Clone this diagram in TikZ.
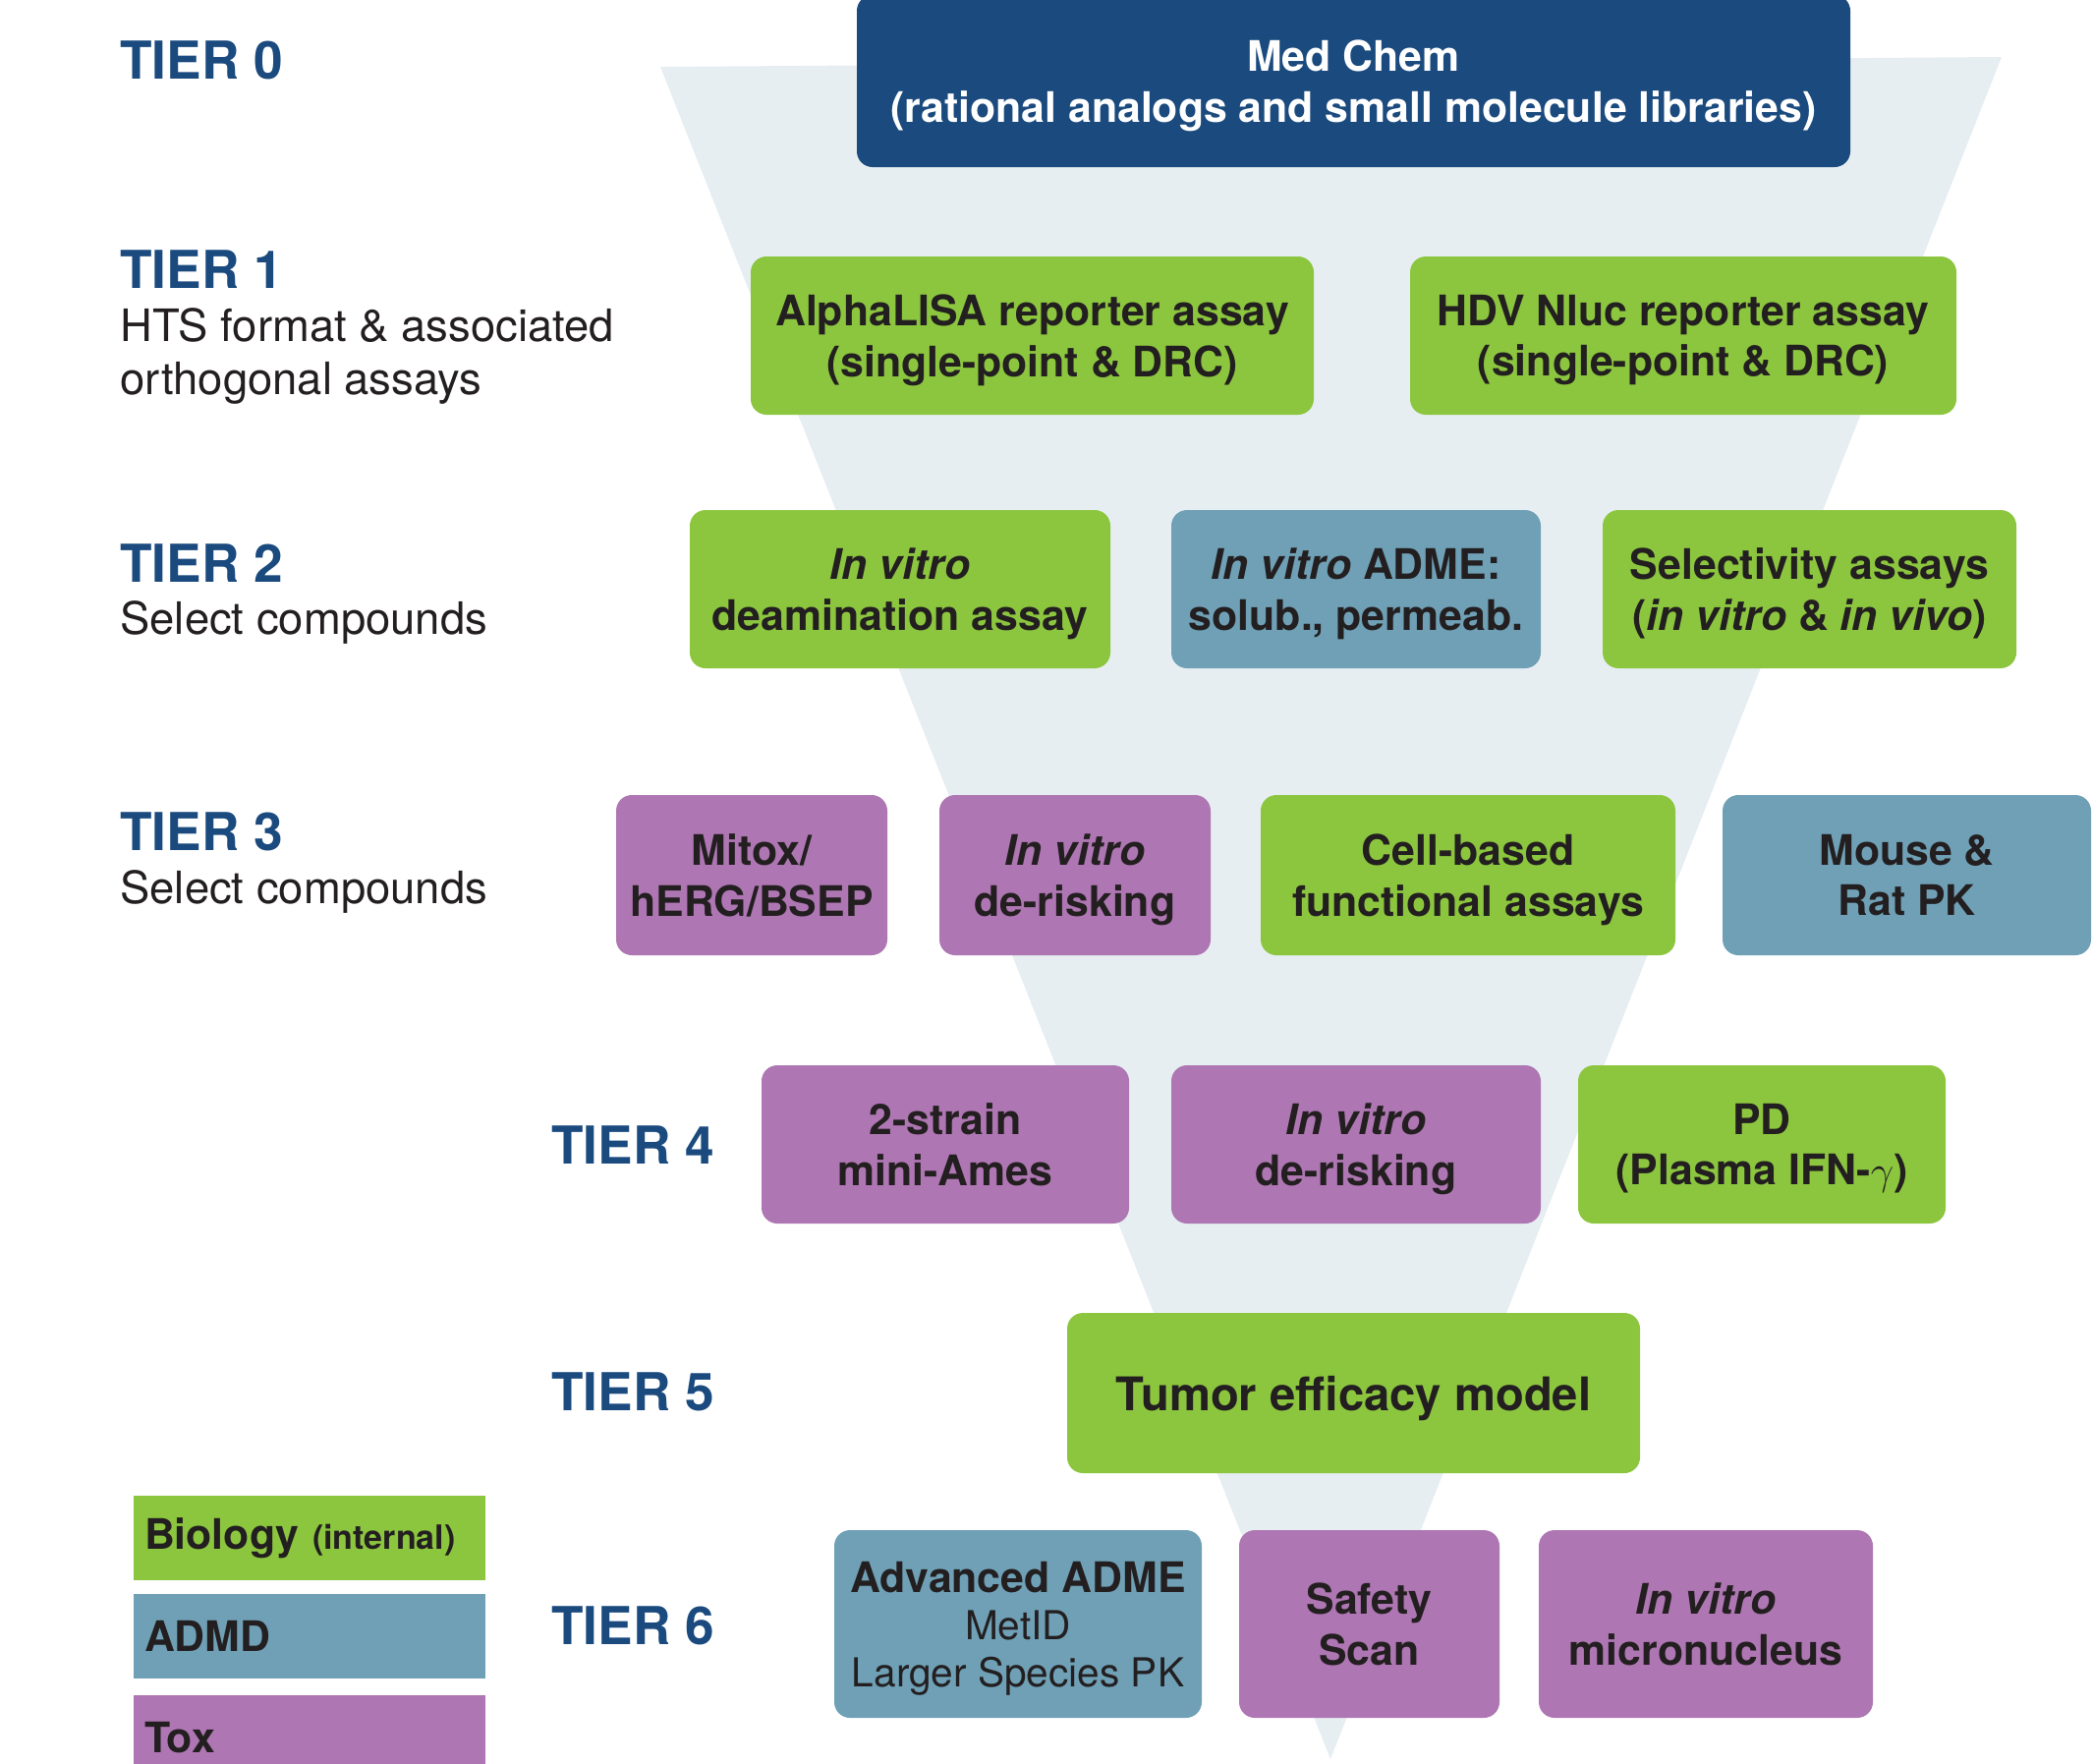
\documentclass[tikz,border=0pt]{standalone}
\usepackage{fontspec}
\setmainfont{TeX Gyre Heros}
\usetikzlibrary{positioning}

\definecolor{biogreen}{HTML}{8CC63F}
\definecolor{admdblue}{HTML}{6FA0B6}
\definecolor{toxpurple}{HTML}{AE76B2}
\definecolor{tiernavy}{HTML}{1A4A7E}
\definecolor{funnelgray}{HTML}{E6EEF2}
\definecolor{inkdark}{HTML}{231F20}

\tikzset{
  assay/.style={rounded corners=8pt, inner sep=0pt, align=center, text=inkdark,
    text depth=0pt, font=\fontsize{21.4}{25.8}\selectfont\bfseries},
  bio/.style={assay, fill=biogreen},
  admd/.style={assay, fill=admdblue},
  tox/.style={assay, fill=toxpurple},
  tier/.style={anchor=west, inner sep=0pt, text=tiernavy,
    font=\fontsize{26.6}{30}\selectfont\bfseries},
  tierdesc/.style={anchor=west, inner sep=0pt, align=left, text=inkdark,
    text depth=0pt, font=\fontsize{22.7}{27}\selectfont},
  legendbox/.style={inner xsep=5.5pt, inner ysep=0pt, text width=168pt,
    minimum height=43pt, align=left, text=inkdark,
    font=\fontsize{21.4}{25}\selectfont\bfseries},
}

\begin{document}
\begin{tikzpicture}[x=0.5pt, y=-0.5pt]
    \useasboundingbox (0,0) rectangle (2129,1794);

    % Funnel
    \fill[funnelgray] (672,68) -- (2037,58) -- (1354,1790) -- cycle;

    % Tier labels
    \node[tier] (tier0) at (122,61) {TIER 0};
    \node[tier] (tier1) at (122,274) {TIER 1};
    \node[tierdesc] (tier1desc) at (122,358) {HTS format \& associated\\orthogonal assays};
    \node[tier] (tier2) at (122,573) {TIER 2};
    \node[tierdesc] (tier2desc) at (122,629) {Select compounds};
    \node[tier] (tier3) at (122,846) {TIER 3};
    \node[tierdesc] (tier3desc) at (122,903) {Select compounds};
    \node[tier] (tier4) at (561,1165) {TIER 4};
    \node[tier] (tier5) at (561,1416) {TIER 5};
    \node[tier] (tier6) at (561,1654) {TIER 6};

    % Tier 0
    \node[assay, fill=tiernavy, text=white, minimum width=505.5pt, minimum height=87.5pt]
    (medchem) at (1377.5,82.5) {Med Chem\\(rational analogs and small molecule libraries)};

    % Tier 1
    \node[bio, minimum width=286.5pt, minimum height=80.5pt] (alpha) at (1050.5,341.5)
    {AlphaLISA reporter assay\\(single-point \& DRC)};
    \node[bio, minimum width=278pt, minimum height=80.5pt] (hdv) at (1713,341.5)
    {HDV Nluc reporter assay\\(single-point \& DRC)};

    % Tier 2
    \node[bio, minimum width=214pt, minimum height=80.5pt] (deam) at (916,599.5)
    {\textit{In vitro}\\deamination assay};
    \node[admd, minimum width=188pt, minimum height=80.5pt] (adme) at (1380,599.5)
    {\textit{In vitro} ADME:\\solub., permeab.};
    \node[bio, minimum width=210.5pt, minimum height=80.5pt] (select) at (1841.5,599.5)
    {Selectivity assays\\(\textit{in vitro} \& \textit{in vivo})};

    % Tier 3
    \node[tox, minimum width=138pt, minimum height=81.5pt] (mitox) at (765,890.5)
    {Mitox/\\hERG/BSEP};
    \node[tox, minimum width=138pt, minimum height=81.5pt] (derisk) at (1094,890.5)
    {\textit{In vitro}\\de-risking};
    \node[bio, minimum width=211pt, minimum height=81.5pt] (cell) at (1494,890.5)
    {Cell-based\\functional assays};
    \node[admd, minimum width=187.5pt, minimum height=81.5pt] (mouse) at (1940.5,890.5)
    {Mouse \&\\Rat PK};

    % Tier 4
    \node[tox, minimum width=187pt, minimum height=80.5pt] (ames) at (962,1164.5)
    {2-strain\\mini-Ames};
    \node[tox, minimum width=188pt, minimum height=80.5pt] (derisktwo) at (1380,1164.5)
    {\textit{In vitro}\\de-risking};
    \node[bio, minimum width=187pt, minimum height=80.5pt] (pd) at (1793,1164.5)
    {PD\\(Plasma IFN-$\gamma$)};

    % Tier 5
    \node[bio, minimum width=291.5pt, minimum height=81.5pt,
    font=\fontsize{23.6}{28}\selectfont\bfseries] (tumor) at (1377.5,1417.5)
    {Tumor efficacy model};

    % Tier 6
    \node[admd, minimum width=187pt, minimum height=95.5pt,
    font=\fontsize{21.4}{24}\selectfont\bfseries] (advadme) at (1036,1652.5)
    {Advanced ADME\\{\fontsize{20.3}{24}\selectfont\mdseries MetID}\\
    {\fontsize{20.3}{24}\selectfont\mdseries Larger Species PK}};
    \node[tox, minimum width=132.5pt, minimum height=95.5pt] (safety) at (1393.5,1652.5)
    {Safety\\Scan};
    \node[tox, minimum width=170pt, minimum height=95.5pt] (micro) at (1736,1652.5)
    {\textit{In vitro}\\micronucleus};

    % Legend
    \node[legendbox, fill=biogreen] (legbio) at (315,1565)
    {Biology {\fontsize{17}{20}\selectfont(internal)}};
    \node[legendbox, fill=admdblue, below=6.5pt of legbio] (legadmd) {ADMD};
    \node[legendbox, fill=toxpurple, below=8pt of legadmd] (legtox) {Tox};

\end{tikzpicture}
\end{document}
